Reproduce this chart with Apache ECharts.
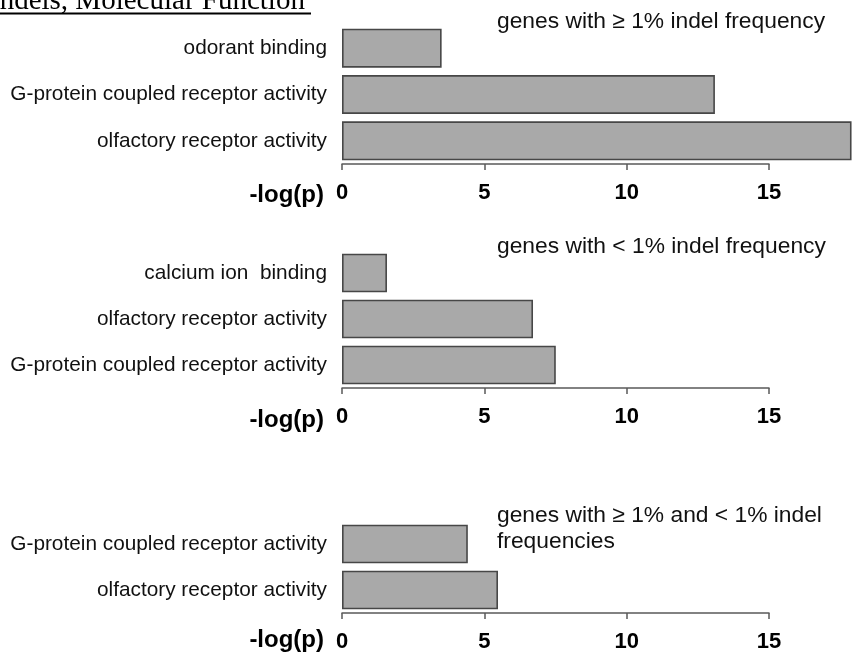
<!DOCTYPE html>
<html>
<head>
<meta charset="utf-8">
<script src="https://cdn.jsdelivr.net/npm/echarts@6/dist/echarts.min.js"></script>
<style>
html,body{margin:0;padding:0;background:#fff;}
#chart{width:865px;height:656px;}
</style>
</head>
<body>
<div id="chart"></div>
<script>
// ---- data ----
const mainTitle = 'Indels, Molecular Function';
const panelTitles = [
  'genes with \u2265 1% indel frequency',
  'genes with < 1% indel frequency',
  'genes with \u2265 1% and < 1% indel\nfrequencies'
];
const categories1 = ['odorant binding', 'G-protein coupled receptor activity', 'olfactory receptor activity'];
const values1 = [3.5, 13.1, 17.9];
const categories2 = ['calcium ion  binding', 'olfactory receptor activity', 'G-protein coupled receptor activity'];
const values2 = [1.58, 6.71, 7.51];
const categories3 = ['G-protein coupled receptor activity', 'olfactory receptor activity'];
const values3 = [4.42, 5.48];
const axisName = '-log(p)';
const axisMin = 0, axisMax = 15, axisStep = 5;

// ---- layout ----
const grids = [
  {left: 342, right: 96, top: 25, height: 139},
  {left: 342, right: 96, top: 250, height: 138},
  {left: 342, right: 96, top: 521, height: 92}
];
const catSets = [categories1, categories2, categories3];
const valSets = [values1, values2, values3];
const titleTops = [4, 229, 498];
const nameYs = [195, 420, 640];

const sans = 'Liberation Sans, Arial, Helvetica, sans-serif';

const option = {
  animation: false,
  backgroundColor: '#fff',
  title: panelTitles.map((t, i) => ({
    text: t, left: 492, top: titleTops[i],
    textStyle: {fontFamily: sans, fontSize: 22.8, fontWeight: 'normal', color: '#111', lineHeight: 26}
  })),
  grid: grids,
  xAxis: grids.map((g, i) => ({
    type: 'value', gridIndex: i, min: axisMin, max: axisMax, interval: axisStep,
    splitLine: {show: false},
    axisLine: {show: true, lineStyle: {color: '#5a5a5a', width: 1.5}},
    axisTick: {show: true, length: 6, lineStyle: {color: '#5a5a5a', width: 1.5}},
    axisLabel: {margin: 18, fontFamily: sans, fontSize: 22, fontWeight: 'bold', color: '#000'}
  })),
  yAxis: grids.map((g, i) => ({
    type: 'category', gridIndex: i, data: catSets[i], inverse: true,
    axisLine: {show: false}, axisTick: {show: false},
    axisLabel: {margin: 15, fontFamily: sans, fontSize: 20.8, color: '#111'}
  })),
  series: grids.map((g, i) => ({
    type: 'bar', xAxisIndex: i, yAxisIndex: i, data: valSets[i],
    clip: false, barCategoryGap: '16%',
    itemStyle: {color: '#a9a9a9', borderColor: '#474747', borderWidth: 1.6}
  })),
  graphic: [
    {type: 'text', left: -10, top: -13, style: {text: mainTitle, font: '29px "Liberation Serif", "Times New Roman", serif', fill: '#000'}},
    {type: 'line', shape: {x1: 0, y1: 13.5, x2: 311, y2: 13.5}, style: {stroke: '#000', lineWidth: 1.8}}
  ].concat(nameYs.map(y => ({
    type: 'text', x: 324, y: y,
    style: {text: axisName, font: 'bold 24px ' + sans, fill: '#000', textAlign: 'right', textVerticalAlign: 'middle'}
  })))
};

const chart = echarts.init(document.getElementById('chart'), null, {renderer: 'canvas'});
chart.setOption(option);
</script>
</body>
</html>
